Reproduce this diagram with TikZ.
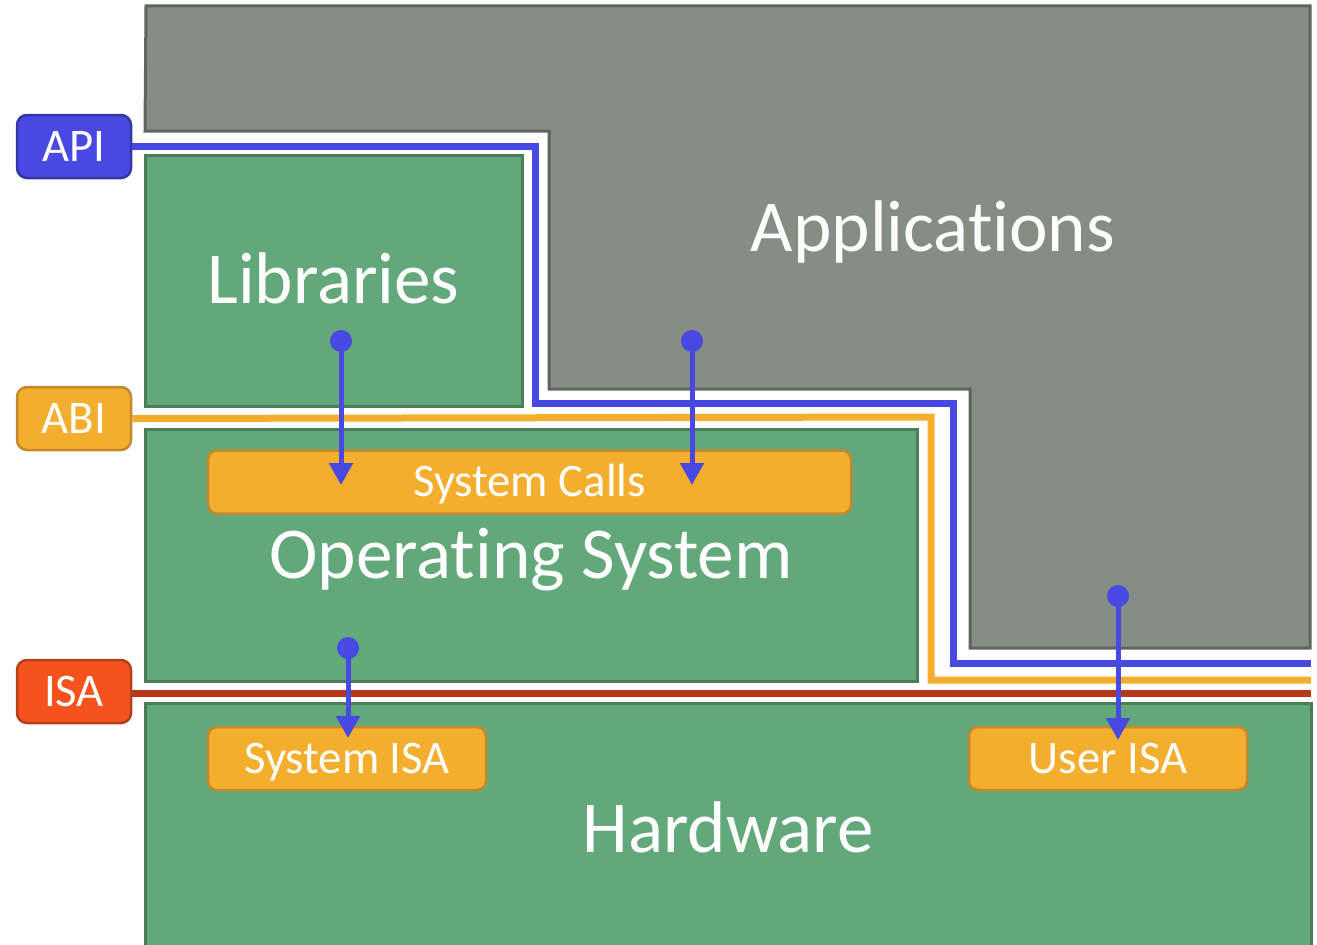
\documentclass[tikz,border=0pt]{standalone}
\usepackage{fontspec}
\setmainfont[Ligatures=NoCommon]{Carlito}
\usetikzlibrary{arrows.meta}

% colours of the layers and of the interfaces
\definecolor{appgray}{HTML}{868D85}
\definecolor{appedge}{HTML}{5E655E}
\definecolor{layergreen}{HTML}{63A87B}
\definecolor{layeredge}{HTML}{4B7D5B}
\definecolor{apiblue}{HTML}{4848E2}
\definecolor{apiedge}{HTML}{3535A8}
\definecolor{abiorange}{HTML}{F4AE2E}
\definecolor{abiedge}{HTML}{C3892A}
\definecolor{isared}{HTML}{F5521E}
\definecolor{isaedge}{HTML}{B3401C}
\definecolor{isaline}{HTML}{B4381A}

\tikzset{
  bigtext/.style={text height=13.3pt, text depth=0pt, text=white,
    font=\fontsize{20.8}{25}\selectfont},
  smalltext/.style={text height=8.5pt, text depth=0pt, text=white,
    font=\fontsize{13.3}{16}\selectfont},
  layer/.style={bigtext, draw=layeredge, fill=layergreen, line width=0.03cm, inner sep=0pt,
    minimum height=2.52cm},
  part/.style={smalltext, draw=abiedge, fill=abiorange, line width=0.025cm,
    rounded corners=0.09cm, minimum height=0.63cm, inner sep=0pt},
  tag/.style={smalltext, line width=0.025cm, rounded corners=0.1cm, minimum width=1.14cm,
    minimum height=0.63cm, inner sep=0pt},
  iface/.style={line width=0.07cm},
  dot/.style={circle, fill=apiblue, minimum size=0.22cm, inner sep=0pt},
  call/.style={draw=apiblue, line width=0.05cm, -{Triangle[length=0.22cm,width=0.23cm]}}
}

\begin{document}
\begin{tikzpicture}
        \useasboundingbox (0,0) rectangle (13.17,-9.44);

        % Applications region (stepped outline)
        \draw [draw=appedge, fill=appgray, line width=0.03cm]
          (1.46,-0.06) -- (13.10,-0.06) -- (13.10,-6.48) -- (9.70,-6.48) -- (9.70,-3.89)
          -- (5.49,-3.89) -- (5.49,-1.31) -- (1.45,-1.31) -- cycle;
        \node [bigtext] (apps) at (9.33,-2.28) {Applications};

        % Green layers
        \node [layer, minimum width=3.77cm, minimum height=2.51cm] (libs) at (3.335,-2.805) {Libraries};
        \node [layer, minimum width=7.72cm] (os) at (5.31,-5.55) {Operating System};
        \node [layer, minimum width=11.66cm] (hw) at (7.28,-8.29) {Hardware};

        % Interface tags on the left
        \node [tag, draw=apiedge, fill=apiblue] (api) at (0.74,-1.465) {API};
        \node [tag, draw=abiedge, fill=abiorange] (abi) at (0.74,-4.185) {ABI};
        \node [tag, draw=isaedge, fill=isared] (isa) at (0.74,-6.915) {ISA};

        % Interface lines
        \coordinate (apiend) at (13.11,-6.63);
        \coordinate (abiend) at (13.11,-6.80);
        \coordinate (isaend) at (13.11,-6.93);
        \draw [iface, apiblue] (api.east) -- (5.35,-1.465) |- (9.53,-4.03) |- (apiend);
        \draw [iface, abiorange] (abi.east) -- (9.31,-4.17) |- (abiend);
        \draw [iface, isaline] (isa.east |- isaend) -- (isaend);

        % Parts inside the layers
        \node [part, minimum width=6.43cm] (syscalls) at (5.295,-4.82) {System Calls};
        \node [part, minimum width=2.78cm] (sysisa) at (3.47,-7.585) {System ISA};
        \node [part, minimum width=2.78cm] (userisa) at (11.08,-7.585) {User ISA};

        % Calls going down
        \node [dot] (libcall) at (3.41,-3.41) {};
        \node [dot] (appcall) at (6.92,-3.41) {};
        \node [dot] (oscall) at (3.48,-6.48) {};
        \node [dot] (usercall) at (11.18,-5.96) {};
        \coordinate (libhit) at (3.41,-4.85);
        \coordinate (apphit) at (6.92,-4.85);
        \coordinate (oshit) at (3.48,-7.38);
        \coordinate (userhit) at (11.18,-7.40);
        \draw [call] (libcall.center) -- (libhit);
        \draw [call] (appcall.center) -- (apphit);
        \draw [call] (oscall.center) -- (oshit);
        \draw [call] (usercall.center) -- (userhit);
\end{tikzpicture}
\end{document}
